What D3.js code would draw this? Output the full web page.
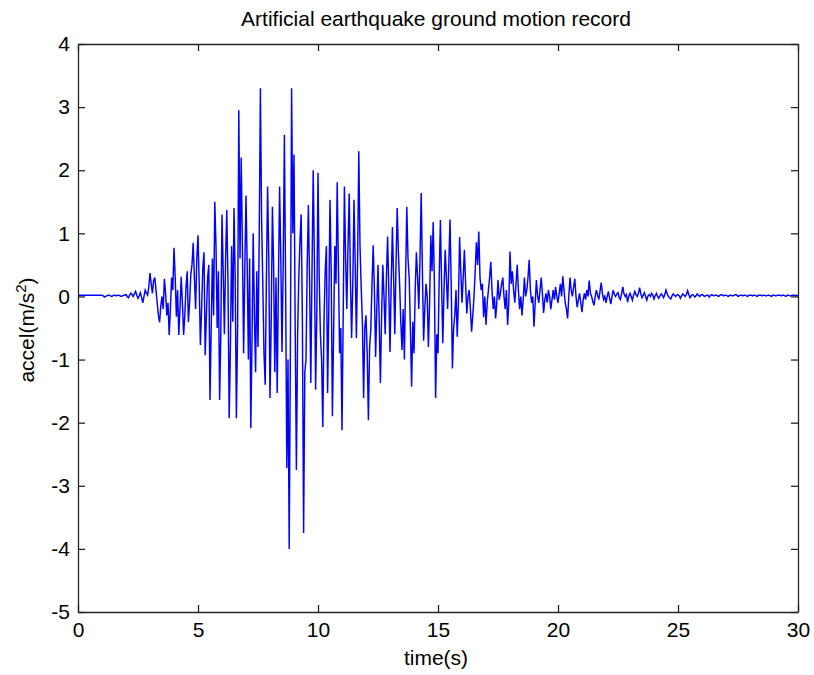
<!doctype html>
<html>
<head>
<meta charset="utf-8">
<style>
  body { margin: 0; background: #fff; }
  text { font-family: Arial, "Liberation Sans", sans-serif; fill: #000; }
</style>
<script src="https://d3js.org/d3.v7.min.js"></script>
</head>
<body>
<svg width="814" height="675"></svg>
<script>
// acceleration record (m/s^2), one sample every 0.05 s from 0 to 30 s, 20 samples per row
var dt = 0.05;
var accel = [
  0.02, 0.02, 0.02, 0.02, 0.02, 0.02, 0.02, 0.02, 0.02, 0.02, 0.02, 0.02, 0.02, 0.02, 0.02, 0.02, 0.02, 0.02, 0.02, 0.02,
  0.02, 0.01, -0.01, 0.0, 0.01, 0.02, 0.02, 0.01, 0.0, 0.01, 0.02, 0.02, 0.01, 0.02, 0.02, 0.01, 0.0, 0.01, 0.02, 0.02,
  0.03, 0.0, -0.02, 0.02, 0.05, 0.03, 0.0, 0.04, 0.08, 0.02, -0.03, 0.01, 0.06, -0.02, -0.1, 0.0, 0.1, 0.05, 0.02, 0.15,
  0.37, 0.2, 0.05, 0.25, 0.3, 0.1, -0.1, -0.3, -0.41, -0.15, 0.0, -0.2, 0.28, 0.05, -0.3, -0.1, -0.61, -0.2, 0.3, 0.1,
  0.77, 0.3, -0.32, 0.1, -0.61, -0.2, 0.31, -0.1, -0.61, -0.3, 0.15, 0.4, -0.41, -0.1, 0.35, 0.5, 0.85, 0.3, -0.2, 0.6,
  0.97, 0.2, -0.77, -0.2, 0.45, 0.7, -0.93, -0.3, 0.3, 0.5, -1.64, -0.5, 0.6, -0.3, 1.5, 0.8, -0.5, 0.4, -1.64, -0.6,
  1.3, 0.4, -0.6, 0.6, 1.37, 0.2, -1.93, -0.8, 0.8, -0.4, 1.4, 0.3, -1.93, -0.5, 2.95, 0.6, 2.2, 0.8, -0.9, 0.4,
  1.6, 0.5, -1.0, 0.6, -2.09, -0.7, 1.0, -0.3, -1.2, 0.4, -0.8, 0.9, 3.3, 1.2, 0.2, -0.9, -1.4, 0.3, 1.74, 0.6,
  -1.61, -0.4, 1.42, 0.5, -1.2, 0.3, -1.53, 0.2, 1.74, 0.6, -0.88, 0.5, 2.56, 0.2, -2.72, -1.0, -4.0, -0.8, 3.3, 1.0,
  2.25, -0.5, -2.75, -0.6, 0.3, 0.9, 1.3, -0.4, -3.75, -1.2, -1.0, 0.5, 1.45, 0.2, -1.37, 0.4, 2.0, 0.6, -1.48, -0.3,
  1.96, 0.3, -0.6, -1.0, -2.07, -0.4, 0.4, 0.8, -1.53, -0.2, 1.53, 0.4, -1.9, -0.6, 0.8, 0.2, 1.81, 0.5, -0.9, -0.5,
  -2.12, -0.3, 1.74, 0.6, -0.2, 0.8, 1.63, 0.3, -0.66, 0.2, 1.53, 0.5, -0.66, 0.6, 2.3, 0.8, 0.14, -0.4, -1.61, -0.5,
  -0.3, -0.9, -1.96, -0.8, -0.53, 0.2, 0.81, 0.1, -0.96, -0.2, 0.5, -0.4, -1.37, -0.3, 0.5, 0.0, -0.6, 0.3, 0.95, 0.1,
  -0.88, 0.2, 1.1, 0.3, -0.6, 0.5, 1.4, 0.7, 0.2, -0.4, -0.85, -0.2, -1.0, 0.3, 1.42, 0.6, 0.3, -0.5, -1.43, -0.4,
  -0.9, 0.1, 0.7, 0.3, -0.2, 0.6, 1.64, 0.4, -0.7, -0.2, 0.2, 0.0, -0.8, -0.1, 0.97, 0.4, 1.18, 0.2, -1.61, -0.6,
  -0.9, 0.3, 1.21, 0.2, -0.74, 0.1, 0.74, 0.3, -0.2, 0.5, 1.22, 0.2, -1.14, -0.5, -0.3, 0.1, -0.64, -0.1, 0.94, 0.4,
  -0.1, 0.3, 0.74, 0.2, -0.27, 0.0, 0.1, -0.2, -0.56, -0.3, 0.0, 0.4, 0.86, 0.5, 1.03, 0.3, 0.1, 0.2, -0.33, 0.0,
  -0.45, -0.1, 0.1, 0.3, 0.55, 0.1, -0.2, 0.0, -0.35, -0.1, 0.26, -0.05, 0.05, 0.2, 0.3, 0.0, -0.2, 0.1, -0.45, -0.1,
  0.71, 0.2, 0.4, 0.1, -0.1, 0.2, 0.5, 0.1, -0.2, 0.0, -0.3, -0.05, 0.3, 0.0, 0.1, 0.3, 0.58, 0.1, -0.1, 0.0,
  -0.48, -0.1, 0.26, 0.0, -0.1, 0.1, 0.3, 0.05, -0.26, -0.05, 0.05, -0.1, 0.1, 0.0, -0.2, -0.05, 0.1, -0.05, 0.15, 0.0,
  -0.1, 0.05, 0.2, 0.0, 0.32, 0.1, -0.1, -0.2, -0.35, 0.0, 0.3, 0.1, 0.0, 0.15, 0.28, 0.0, -0.17, -0.05, 0.05, -0.1,
  -0.25, -0.05, 0.05, -0.05, 0.1, 0.0, 0.25, 0.05, 0.0, -0.08, -0.14, 0.0, 0.1, 0.02, -0.05, 0.08, 0.22, 0.05, -0.05, 0.0,
  -0.1, 0.0, 0.08, -0.03, -0.12, 0.0, 0.1, 0.03, 0.0, 0.04, 0.06, -0.02, -0.05, 0.05, 0.15, 0.04, 0.0, 0.03, -0.09, 0.0,
  0.05, 0.0, -0.06, 0.02, 0.08, 0.03, 0.0, 0.05, 0.14, 0.04, -0.02, 0.02, 0.06, 0.0, -0.06, 0.01, 0.03, 0.0, 0.05, 0.02,
  -0.04, 0.01, 0.05, 0.0, -0.03, 0.01, 0.04, 0.02, -0.02, 0.03, 0.1, 0.04, 0.0, -0.02, -0.04, 0.01, 0.04, 0.02, 0.0, 0.02,
  0.03, 0.01, -0.03, 0.01, 0.04, 0.02, 0.0, 0.03, 0.09, 0.03, -0.02, 0.01, 0.03, 0.02, -0.01, 0.01, 0.04, 0.02, 0.0, 0.02,
  0.03, 0.02, 0.0, 0.01, 0.02, 0.02, -0.01, 0.01, 0.03, 0.02, 0.01, 0.02, 0.02, 0.01, 0.0, 0.02, 0.03, 0.02, 0.01, 0.02,
  0.02, 0.01, 0.0, 0.02, 0.02, 0.01, 0.01, 0.02, 0.03, 0.02, 0.0, 0.01, 0.02, 0.02, 0.01, 0.02, 0.02, 0.01, 0.0, 0.02,
  0.02, 0.02, 0.01, 0.02, 0.02, 0.01, 0.0, 0.02, 0.02, 0.02, 0.01, 0.02, 0.02, 0.01, 0.01, 0.02, 0.02, 0.01, 0.0, 0.02,
  0.02, 0.01, 0.01, 0.02, 0.02, 0.02, 0.01, 0.02, 0.02, 0.01, 0.0, 0.02, 0.02, 0.01, 0.01, 0.02, 0.02, 0.02, 0.01, 0.02,
  0.01
];
var xTicks = [0, 5, 10, 15, 20, 25, 30];
var yTicks = [-5, -4, -3, -2, -1, 0, 1, 2, 3, 4];

var svg = d3.select("svg"),
    plotL = 78, plotR = 798, plotT = 44, plotB = 612;

var x = d3.scaleLinear().domain([0, 30]).range([plotL, plotR]),
    y = d3.scaleLinear().domain([-5, 4]).range([plotB, plotT]);

var axisColor = "#262626";
var fmt = function(d) { return String(d); }; // plain hyphen minus, as in the figure

// signal
var line = d3.line()
    .x(function(d, i) { return x(i * dt); })
    .y(function(d) { return y(d); });

svg.append("path")
   .datum(accel)
   .attr("fill", "none")
   .attr("stroke", "#0000ff")
   .attr("stroke-width", 1.45)
   .attr("d", line);

// box axes, MATLAB style with inward ticks on every side
function styleAxis(g) {
  g.attr("font-size", null).attr("font-family", null);
  g.select(".domain").attr("stroke", axisColor).attr("stroke-width", 1.3);
  g.selectAll(".tick line").attr("stroke", axisColor).attr("stroke-width", 1.3);
  g.selectAll(".tick text").attr("fill", "#000").style("font-size", "21px");
}

svg.append("g")
   .attr("transform", "translate(0," + plotB + ")")
   .call(d3.axisBottom(x).tickValues(xTicks).tickFormat(fmt).tickSizeInner(-7).tickSizeOuter(0).tickPadding(10))
   .call(styleAxis);

svg.append("g")
   .attr("transform", "translate(0," + plotT + ")")
   .call(d3.axisTop(x).tickValues(xTicks).tickSizeInner(-7).tickSizeOuter(0).tickFormat(""))
   .call(styleAxis);

svg.append("g")
   .attr("transform", "translate(" + plotL + ",0)")
   .call(d3.axisLeft(y).tickValues(yTicks).tickFormat(fmt).tickSizeInner(-7).tickSizeOuter(0).tickPadding(8))
   .call(styleAxis);

svg.append("g")
   .attr("transform", "translate(" + plotR + ",0)")
   .call(d3.axisRight(y).tickValues(yTicks).tickSizeInner(-7).tickSizeOuter(0).tickFormat(""))
   .call(styleAxis);

// title and labels
svg.append("text")
   .attr("x", 436)
   .attr("y", 26)
   .attr("text-anchor", "middle")
   .style("font-size", "21px")
   .text("Artificial earthquake ground motion record");

svg.append("text")
   .attr("x", 436)
   .attr("y", 665)
   .attr("text-anchor", "middle")
   .style("font-size", "21px")
   .text("time(s)");

var yl = svg.append("text")
   .attr("transform", "translate(34,330) rotate(-90)")
   .attr("text-anchor", "middle")
   .style("font-size", "21px");
yl.append("tspan").text("accel(m/s");
yl.append("tspan").attr("dy", -8).style("font-size", "15px").text("2");
yl.append("tspan").attr("dy", 8).text(")");
</script>
</body>
</html>
